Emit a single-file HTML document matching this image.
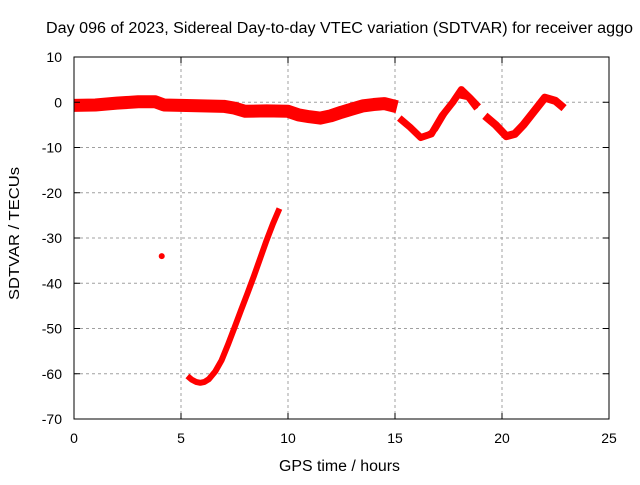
<!DOCTYPE html>
<html><head><meta charset="utf-8"><style>
body{margin:0;background:#fff;}
svg text{font-family:"Liberation Sans",sans-serif;font-size:14px;fill:#000;}
</style></head><body>
<svg id="chart" width="640" height="480" xmlns="http://www.w3.org/2000/svg">
<text x="46" y="33" style="font-size:15.5px" textLength="587" lengthAdjust="spacingAndGlyphs">Day 096 of 2023, Sidereal Day-to-day VTEC variation (SDTVAR) for receiver aggo</text>
<g id="grid"></g><g id="data"></g><g id="axes"></g>
<text x="279" y="471" style="font-size:15.5px" textLength="121" lengthAdjust="spacingAndGlyphs">GPS time / hours</text>
<text transform="translate(19,300) rotate(-90)" style="font-size:15px" textLength="133" lengthAdjust="spacingAndGlyphs">SDTVAR / TECUs</text>
</svg>
<script>
const xTicks=[0,5,10,15,20,25];
const yTicks=[10,0,-10,-20,-30,-40,-50,-60,-70];
const seg1Hours=[0,1,2,3,3.8,4.2,5,6,7,7.5,8,9,10,10.5,11,11.5,12,12.5,13,13.5,14,14.5,15.1];
const seg1Vals=[-0.7,-0.6,-0.2,0.1,0.1,-0.6,-0.7,-0.8,-0.9,-1.3,-2,-1.9,-2,-2.8,-3.2,-3.5,-3,-2.2,-1.5,-0.8,-0.5,-0.3,-1];
const seg2Hours=[15.2,15.7,16.2,16.7,17.2,17.7,18.1,18.5,18.9];
const seg2Vals=[-3.5,-5.5,-7.8,-7,-3,0,2.8,1,-1];
const seg2bHours=[16.4,16.9,17.4,17.9,18.4,18.8];
const seg2bVals=[-7.5,-6,-2,1.5,1,-1.5];
const seg3Hours=[19.2,19.7,20.2,20.6,21,21.5,22,22.5,22.9];
const seg3Vals=[-3,-5,-7.5,-7,-5,-2,1,0.3,-1.3];
const dotHours=[4.1];
const dotVals=[-34];
const curveHours=[5.3,5.5,5.7,5.9,6.1,6.3,6.6,6.9,7.2,7.5,7.8,8.1,8.4,8.7,9.0,9.3,9.6];
const curveVals=[-60.5,-61.3,-61.8,-62,-61.8,-61.2,-59.5,-57,-53.5,-49.8,-46,-42.3,-38.5,-34.5,-30.5,-26.8,-23.5];
const X0=74,X1=609,Y0=57,Y1=419;
const sx=h=>X0+(h-0)/(25-0)*(X1-X0);
const sy=v=>Y0+(10-v)/(80)*(Y1-Y0);
const NS="http://www.w3.org/2000/svg";
function mk(tag,parent,attrs){const e=document.createElementNS(NS,tag);for(const k in attrs)e.setAttribute(k,attrs[k]);parent.appendChild(e);return e;}
const grid=document.getElementById('grid'),axes=document.getElementById('axes'),data=document.getElementById('data');
xTicks.forEach(t=>{
  const x=sx(t);
  if(t>0&&t<25){const g=mk('line',grid,{x1:x,x2:x,y1:Y0,y2:Y1,stroke:'#a0a0a0','stroke-dasharray':'3,3'});
  
  }
  mk('line',axes,{x1:x,x2:x,y1:Y1,y2:Y1-6,stroke:'#000'});
  mk('line',axes,{x1:x,x2:x,y1:Y0,y2:Y0+6,stroke:'#000'});
  const l=mk('text',axes,{x:x,y:Y1+24,'text-anchor':'middle'});l.textContent=t;
  
  
});
yTicks.forEach(t=>{
  const y=sy(t);
  if(t<10&&t>-70){const g=mk('line',grid,{x1:X0,x2:X1,y1:y,y2:y,stroke:'#a0a0a0','stroke-dasharray':'3,3'});
  
  }
  mk('line',axes,{x1:X0,x2:X0+6,y1:y,y2:y,stroke:'#000'});
  mk('line',axes,{x1:X1,x2:X1-6,y1:y,y2:y,stroke:'#000'});
  const l=mk('text',axes,{x:X0-12,y:y+5,'text-anchor':'end'});l.textContent=t;
  
  
});
const fr=mk('rect',axes,{x:X0,y:Y0,width:X1-X0,height:Y1-Y0,fill:'none',stroke:'#000'});


function series(hs,vs,w,name){
  const p=mk('polyline',data,{points:hs.map((h,i)=>sx(h)+','+sy(vs[i])).join(' '),fill:'none',stroke:'#f00','stroke-width':w,'stroke-linejoin':'round','stroke-linecap':'butt'});
  
  
}
series(seg1Hours,seg1Vals,13,'series-segment-1');
series(seg2Hours,seg2Vals,7,'series-segment-2');
series(seg2bHours,seg2bVals,5,'series-segment-2b');
series(seg3Hours,seg3Vals,8,'series-segment-3');
series(curveHours,curveVals,6,'series-curve');
dotHours.forEach((h,i)=>{
  const c=mk('circle',data,{cx:sx(h),cy:sy(dotVals[i]),r:3,fill:'#f00'});
  
  
});
</script>
</body></html>
